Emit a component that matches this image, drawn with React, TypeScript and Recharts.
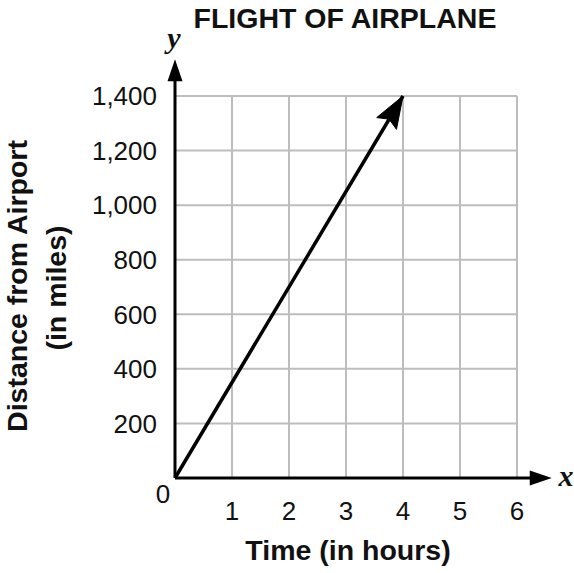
import React from "react";
import { ComposedChart, Line, XAxis, YAxis, CartesianGrid, ReferenceLine } from "recharts";

const TITLE = "FLIGHT OF AIRPLANE";
const X_LABEL = "Time (in hours)";
const Y_LABEL_1 = "Distance from Airport";
const Y_LABEL_2 = "(in miles)";

const timeHours = [0, 4];
const distanceMiles = [0, 1400];
const xTicks = [0, 1, 2, 3, 4, 5, 6];
const yTicks = [0, 200, 400, 600, 800, 1000, 1200, 1400];
const X_DOMAIN: [number, number] = [0, 6];
const Y_DOMAIN: [number, number] = [0, 1400];
const X_AXIS_END = 6.61;
const Y_AXIS_END = 1535;

const data = timeHours.map((t, i) => ({ time: t, distance: distanceMiles[i] }));

const FONT = "'Liberation Sans', Arial, Helvetica, sans-serif";
const SERIF = "'Liberation Serif', 'Times New Roman', serif";

const fmt = (v: number) => v.toLocaleString("en-US");

const YTick = (props: any) => {
  const { x, y, payload } = props;
  if (payload.value === 0) return <g />;
  return (
    <text x={x} y={y} dy="0.355em" textAnchor="end" fontFamily={FONT} fontSize={26} fill="#111">
      {fmt(payload.value)}
    </text>
  );
};

const XTick = (props: any) => {
  const { x, y, payload } = props;
  const isZero = payload.value === 0;
  return (
    <text
      x={isZero ? x - 12 : x}
      y={isZero ? y - 17 : y}
      dy="0.355em"
      textAnchor="middle"
      fontFamily={FONT}
      fontSize={26}
      fill="#111"
    >
      {payload.value}
    </text>
  );
};

const arrowHead = (tx: number, ty: number, ang: number, L: number, W: number, N: number) => {
  const dx = Math.cos(ang);
  const dy = Math.sin(ang);
  const px = -dy;
  const py = dx;
  const bx = tx - L * dx;
  const by = ty - L * dy;
  const nx = tx - N * dx;
  const ny = ty - N * dy;
  return `${tx},${ty} ${bx + W * px},${by + W * py} ${nx},${ny} ${bx - W * px},${by - W * py}`;
};

const AxisArrow = (props: any) => {
  const { x1, y1, x2, y2 } = props;
  const ang = Math.atan2(y2 - y1, x2 - x1);
  const L = 22;
  const ex = x2 - (L - 4) * Math.cos(ang);
  const ey = y2 - (L - 4) * Math.sin(ang);
  return (
    <g>
      <line x1={x1} y1={y1} x2={ex} y2={ey} stroke="#000" strokeWidth={3} />
      <polygon points={arrowHead(x2, y2, ang, L, 7.5, L)} fill="#000" />
    </g>
  );
};

const ArrowDot = (props: any) => {
  const { cx, cy, index, points } = props;
  if (index !== data.length - 1) return <g key={`d${index}`} />;
  let ang = Math.atan2(-382, 228);
  if (points && points.length > 1) {
    const p = points[points.length - 2];
    ang = Math.atan2(cy - p.y, cx - p.x);
  }
  return (
    <polygon
      key={`d${index}`}
      points={arrowHead(cx, cy, ang, 32, 11.5, 27)}
      fill="#000"
      stroke="#000"
      strokeWidth={1}
      strokeLinejoin="miter"
    />
  );
};

export default function App() {
  return (
    <div style={{ position: "absolute", left: 0, top: 0, width: 574, height: 573, background: "#fff" }}>
      <ComposedChart
        width={574}
        height={573}
        data={data}
        margin={{ top: 96, right: 57, bottom: 0, left: 0 }}
      >
        <CartesianGrid stroke="#bdbdbd" strokeWidth={2} />
        <XAxis
          dataKey="time"
          type="number"
          domain={X_DOMAIN}
          ticks={xTicks}
          height={95}
          axisLine={false}
          tickLine={false}
          tickSize={0}
          tickMargin={33}
          tick={<XTick />}
          interval={0}
        />
        <YAxis
          type="number"
          domain={Y_DOMAIN}
          ticks={yTicks}
          width={175}
          axisLine={false}
          tickLine={false}
          tickSize={0}
          tickMargin={18}
          tick={<YTick />}
          interval={0}
        />
        <ReferenceLine
          segment={[{ x: 0, y: 0 }, { x: X_AXIS_END, y: 0 }]}
          ifOverflow="visible"
          shape={AxisArrow}
        />
        <ReferenceLine
          segment={[{ x: 0, y: 0 }, { x: 0, y: Y_AXIS_END }]}
          ifOverflow="visible"
          shape={AxisArrow}
        />
        <Line
          dataKey="distance"
          stroke="#000"
          strokeWidth={3.5}
          isAnimationActive={false}
          dot={ArrowDot}
          activeDot={false}
        />
      </ComposedChart>
      <svg width={574} height={573} style={{ position: "absolute", left: 0, top: 0, pointerEvents: "none" }}>
        <text x={345} y={28} textAnchor="middle" fontFamily={FONT} fontWeight="bold" fontSize={28.5} fill="#111">
          {TITLE}
        </text>
        <text x={348} y={560} textAnchor="middle" fontFamily={FONT} fontWeight="bold" fontSize={28.5} fill="#111">
          {X_LABEL}
        </text>
        <text transform="translate(27,286) rotate(-90)" textAnchor="middle" fontFamily={FONT} fontWeight="bold" fontSize={28.5} fill="#111">
          {Y_LABEL_1}
        </text>
        <text transform="translate(66,288) rotate(-90)" textAnchor="middle" fontFamily={FONT} fontWeight="bold" fontSize={28.5} fill="#111">
          {Y_LABEL_2}
        </text>
        <text x={174} y={48} textAnchor="middle" fontFamily={SERIF} fontStyle="italic" fontWeight="bold" fontSize={30} fill="#111">
          y
        </text>
        <text x={566} y={486} textAnchor="middle" fontFamily={SERIF} fontStyle="italic" fontWeight="bold" fontSize={30} fill="#111">
          x
        </text>
      </svg>
    </div>
  );
}
